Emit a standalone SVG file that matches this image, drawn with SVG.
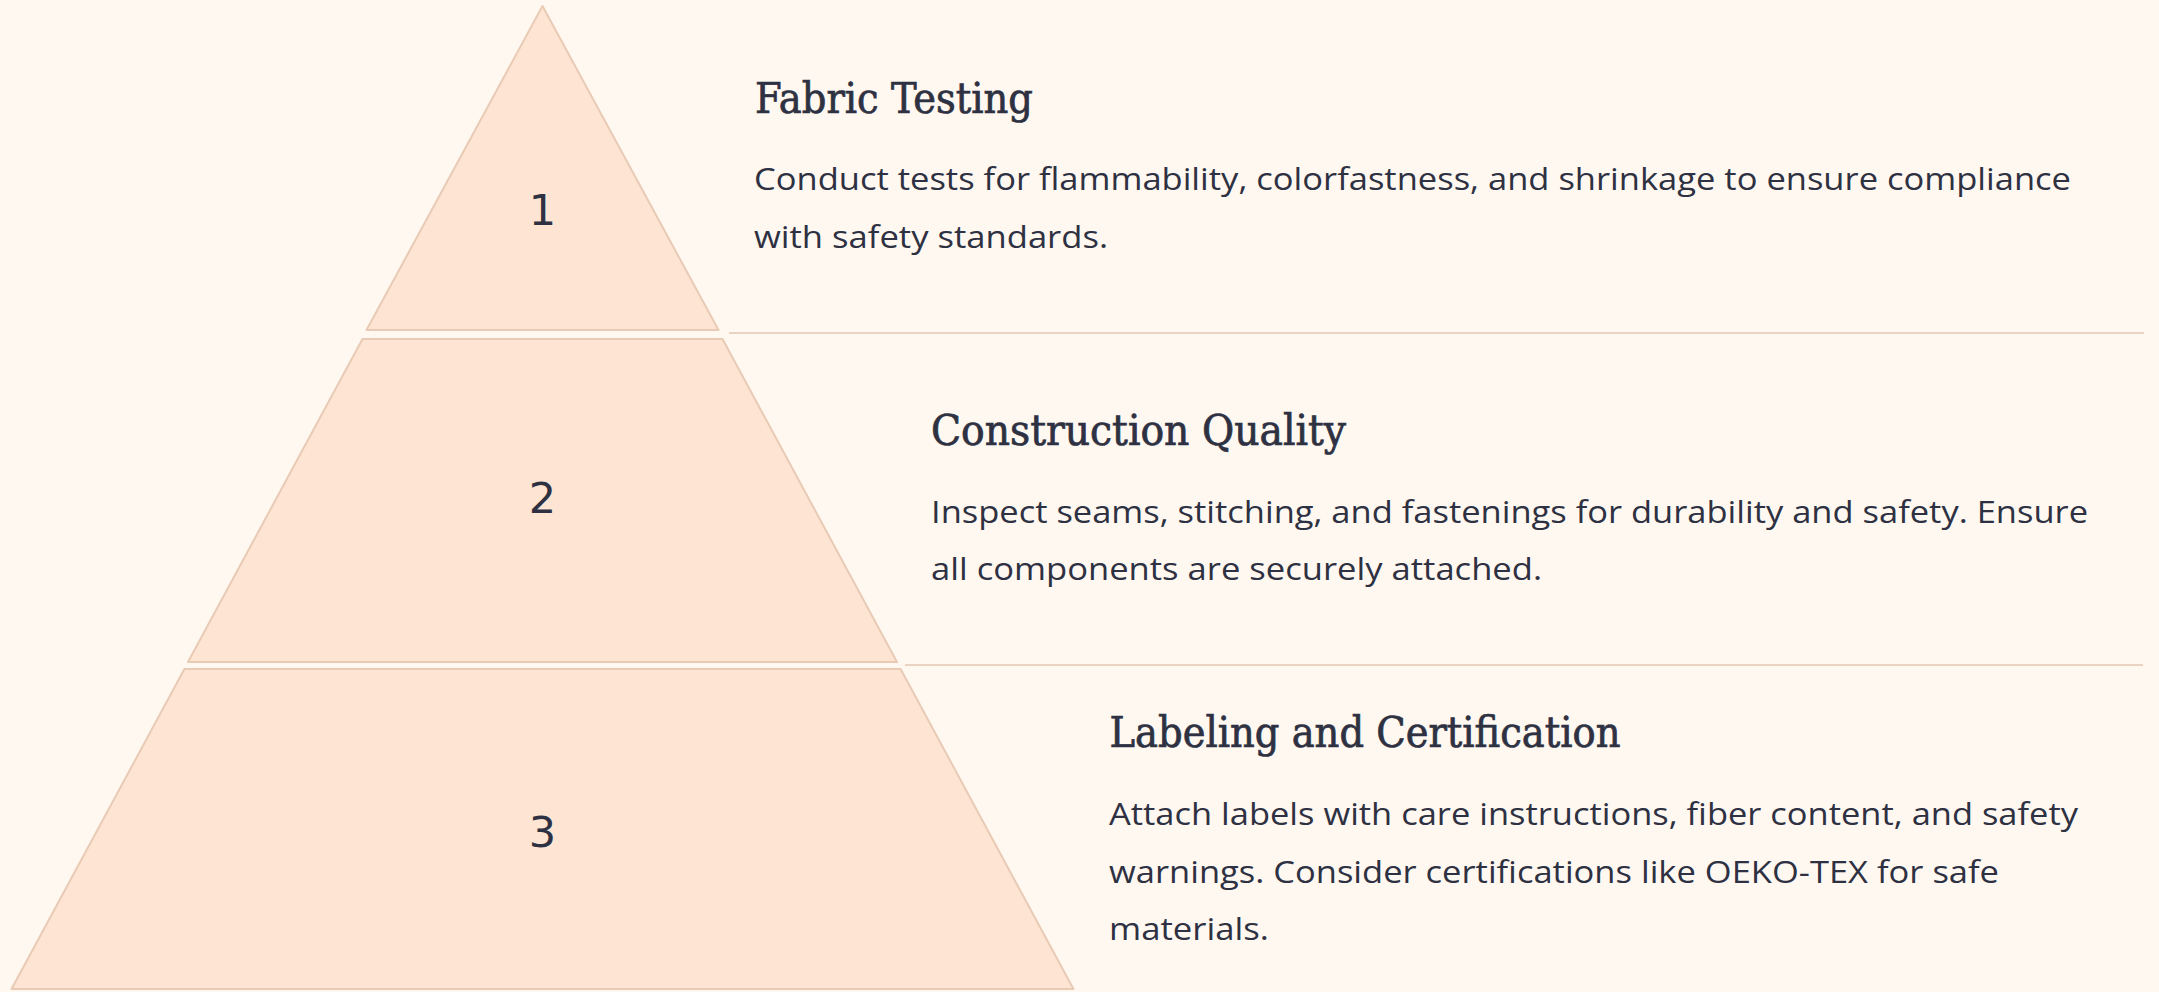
<svg xmlns="http://www.w3.org/2000/svg" width="2159" height="992" viewBox="0 0 2159 992">
<style>
.tier{fill:#fde4d3;stroke:#e9cbb5;stroke-width:2;stroke-linejoin:round}
.num{font-family:"DejaVu Sans",sans-serif;font-size:43px;fill:#2e3142;text-anchor:middle}
.title{font-family:"DejaVu Serif Condensed","DejaVu Serif",serif;font-size:42px;fill:#2e3142;stroke:#2e3142;stroke-width:0.7}
.body{font-family:"Open Sans","Noto Sans",sans-serif;font-size:31px;fill:#2e3142}
.sep{stroke:#ead2c0;stroke-width:2;fill:none}
</style>
<rect width="2159" height="992" fill="#fff8f1"/>
<g id="connectors">
<line class="sep" x1="729" y1="333" x2="2144" y2="333"/>
<line class="sep" x1="905" y1="665" x2="2143" y2="665"/>
</g>
<g id="tier1">
<polygon class="tier" points="542.5,6 718.5,330 366.5,330"/>
<text class="num" x="542.5" y="224.5">1</text>
<text class="title" x="755" y="113.3" textLength="278" lengthAdjust="spacingAndGlyphs">Fabric Testing</text>
<text class="body" x="754" y="190" textLength="1317" lengthAdjust="spacingAndGlyphs">Conduct tests for flammability, colorfastness, and shrinkage to ensure compliance</text>
<text class="body" x="754" y="247.8" textLength="354" lengthAdjust="spacingAndGlyphs">with safety standards.</text>
</g>
<g id="tier2">
<polygon class="tier" points="362.5,339 722.5,339 897,662 188,662"/>
<text class="num" x="542.5" y="513.3">2</text>
<text class="title" x="931" y="445" textLength="415" lengthAdjust="spacingAndGlyphs">Construction Quality</text>
<text class="body" x="931" y="522.6" textLength="1157" lengthAdjust="spacingAndGlyphs">Inspect seams, stitching, and fastenings for durability and safety. Ensure</text>
<text class="body" x="931" y="580.2" textLength="611" lengthAdjust="spacingAndGlyphs">all components are securely attached.</text>
</g>
<g id="tier3">
<polygon class="tier" points="184.4,669 900.6,669 1073.5,989 11.5,989"/>
<text class="num" x="542.5" y="846.5">3</text>
<text class="title" x="1109.5" y="746.7" textLength="511" lengthAdjust="spacingAndGlyphs">Labeling and Certification</text>
<text class="body" x="1109" y="825" textLength="969" lengthAdjust="spacingAndGlyphs">Attach labels with care instructions, fiber content, and safety</text>
<text class="body" x="1109" y="882.8" textLength="890" lengthAdjust="spacingAndGlyphs">warnings. Consider certifications like OEKO-TEX for safe</text>
<text class="body" x="1109" y="940.4" textLength="160" lengthAdjust="spacingAndGlyphs">materials.</text>
</g>
</svg>
